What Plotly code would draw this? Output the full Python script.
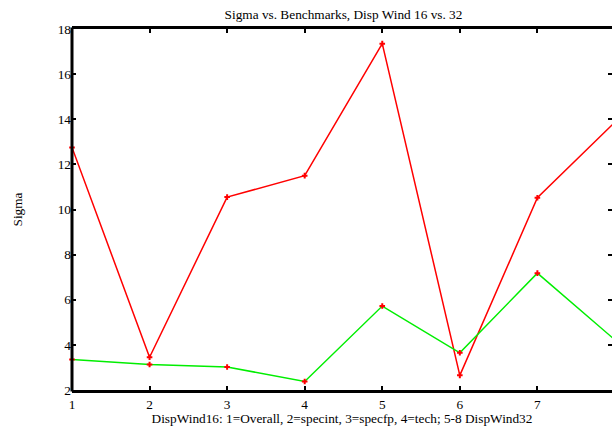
import plotly.graph_objects as go

x_vals = [1, 2, 3, 4, 5, 6, 7, 8]
sigma_red = [12.75, 3.45, 10.55, 11.5, 17.35, 2.65, 10.52, 13.87]
sigma_green = [3.35, 3.13, 3.02, 2.38, 5.72, 3.65, 7.18, 4.22]
y_ticks = [2, 4, 6, 8, 10, 12, 14, 16, 18]

FONT = "Liberation Serif"
FS = 13.3

fig = go.Figure()
fig.add_trace(go.Scatter(
    x=x_vals, y=sigma_red, mode="lines+markers",
    line=dict(color="#ff0000", width=1.5),
    marker=dict(symbol="cross-thin", size=4, color="#ff0000",
                line=dict(color="#ff0000", width=2)),
    showlegend=False, cliponaxis=False))
fig.add_trace(go.Scatter(
    x=x_vals, y=sigma_green, mode="lines+markers",
    line=dict(color="#00ee00", width=1.5),
    marker=dict(symbol="cross-thin", size=4, color="#ff0000",
                line=dict(color="#ff0000", width=2)),
    showlegend=False, cliponaxis=False))

fig.add_shape(type="line", xref="paper", yref="paper", x0=0, x1=0, y0=-0.004, y1=1.004,
              line=dict(color="black", width=3), layer="above")

fig.update_layout(
    width=612, height=426,
    margin=dict(l=72, r=0, t=29, b=36),
    paper_bgcolor="white", plot_bgcolor="white",
    font=dict(family=FONT, size=FS, color="black"),
    title=dict(text="Sigma vs. Benchmarks, Disp Wind 16 vs. 32",
               x=(72 + 615) / 2 / 612, xanchor="center", y=1 - 14 / 426, yanchor="middle",
               font=dict(family=FONT, size=FS, color="black")),
    xaxis=dict(range=[1, 7.962], tickvals=x_vals, ticktext=[str(v) for v in x_vals],
               showgrid=False, zeroline=False, showline=True, linecolor="black", linewidth=3,
               mirror="ticks", ticks="inside", ticklen=4, tickwidth=2, tickcolor="black",
               title=dict(text="DispWind16: 1=Overall, 2=specint, 3=specfp, 4=tech; 5-8 DispWind32",
                          standoff=0, font=dict(family=FONT, size=FS)),
               tickfont=dict(family=FONT, size=FS)),
    yaxis=dict(range=[2, 18], tickvals=y_ticks,
               showgrid=False, zeroline=False, showline=False, linecolor="black", linewidth=3,
               mirror="ticks", ticks="inside", ticklen=4, tickwidth=2, tickcolor="black",
               title=dict(text="Sigma", standoff=32, font=dict(family=FONT, size=FS)),
               tickfont=dict(family=FONT, size=FS)),
)

fig.write_html("out.html", config={"displayModeBar": False},
               post_script="document.body.style.margin='0';document.body.style.overflow='hidden';")
